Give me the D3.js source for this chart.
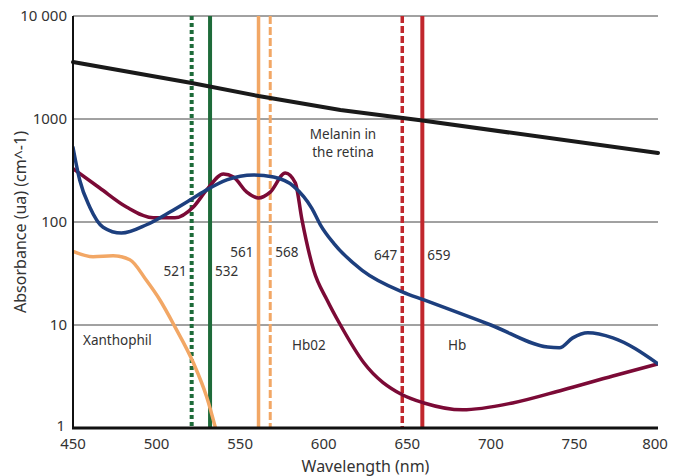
<!DOCTYPE html>
<html>
<head>
<meta charset="utf-8">
<script src="https://cdn.jsdelivr.net/npm/d3@7"></script>
<style>
  body { margin: 0; background: #fff; }
  text { font-family: "Noto Sans", sans-serif; fill: #333; }
</style>
</head>
<body>
<div id="chart"></div>
<script>
// Absorbance spectra (wavelength in nm, absorbance)
const melanin = [[450, 3575], [521, 2240], [561, 1670], [610, 1222], [659, 966], [800, 468]];
const hb = [[450, 530], [454, 256], [460, 140], [468, 89], [479, 78], [494, 94], [508, 125], [522, 171],
  [530, 205], [542, 256], [558, 286], [570, 273], [582, 222], [593, 135], [598, 94], [606, 62],
  [623, 34], [647, 21], [660, 17.5], [692, 11.2], [700, 10], [734, 6.1], [741, 6.0], [749, 7.5],
  [758, 8.4], [773, 7.5], [800, 4.2]];
const hbo2 = [[450, 330], [466, 214], [482, 140], [498, 110], [511, 110], [522, 140], [530, 205],
  [540, 292], [546, 273], [554, 195], [561, 171], [568, 195], [577, 299], [583, 240], [587, 105],
  [594, 34], [602, 17.5], [610, 10], [624, 4.3], [647, 2.1], [660, 1.75], [683, 1.5], [713, 1.75],
  [743, 2.34], [773, 3.2], [800, 4.2]];
const xanthophyll = [[450, 52], [462, 46], [474, 47], [484, 43], [494, 27], [502, 17.5], [511, 9.6],
  [522, 4.3], [530, 2.0], [536, 0.9]];

// laser wavelengths
const lasers = [
  {nm: 521, color: '#1e6b3a', dash: '4,3', w: 4, label: '521', side: 'left', ly: 271},
  {nm: 532, color: '#1e6b3a', dash: null, w: 4, label: '532', side: 'right', ly: 271},
  {nm: 561, color: '#f2a765', dash: null, w: 3.5, label: '561', side: 'left', ly: 252},
  {nm: 568, color: '#f2a765', dash: '8,3', w: 3, label: '568', side: 'right', ly: 252},
  {nm: 647, color: '#c1272d', dash: '7,3', w: 3.5, label: '647', side: 'left', ly: 255},
  {nm: 659, color: '#c1272d', dash: null, w: 4, label: '659', side: 'right', ly: 255}
];

const xTicks = [450, 500, 550, 600, 650, 700, 750, 800];
const yTicks = [1, 10, 100, 1000, 10000];
const yTickLabels = ['1', '10', '100', '1000', '10 000'];

const width = 681, height = 476;
const margin = {top: 16, right: 23, bottom: 48, left: 73};

const svg = d3.select('#chart').append('svg')
  .attr('width', width)
  .attr('height', height);

const x = d3.scaleLinear().domain([450, 800]).range([margin.left, width - margin.right]);
const y = d3.scaleLog().domain([1, 10000]).range([height - margin.bottom, margin.top]);

svg.append('defs').append('clipPath').attr('id', 'plot')
  .append('rect')
  .attr('x', margin.left).attr('y', margin.top)
  .attr('width', x(800) - x(450)).attr('height', y(1) - y(10000));

// gridlines
svg.append('g')
  .selectAll('line')
  .data(yTicks.slice(1))
  .join('line')
  .attr('x1', x(450)).attr('x2', x(800))
  .attr('y1', d => y(d)).attr('y2', d => y(d))
  .attr('stroke', '#444').attr('stroke-width', 1);

// y tick labels
svg.append('g')
  .selectAll('text')
  .data(yTicks)
  .join('text')
  .attr('x', d => d === 1 ? x(450) - 8 : x(450) - 6)
  .attr('y', d => d === 1 ? y(d) - 2 : y(d))
  .attr('dy', '0.35em')
  .attr('text-anchor', 'end')
  .style('font-size', '15px')
  .text((d, i) => yTickLabels[i]);

// x tick labels
svg.append('g')
  .selectAll('text')
  .data(xTicks)
  .join('text')
  .attr('x', d => d === 800 ? x(d) - 3 : x(d))
  .attr('y', y(1) + 16)
  .attr('dy', '0.35em')
  .attr('text-anchor', 'middle')
  .style('font-size', '15px')
  .text(d => d);

// vertical laser lines
const lg = svg.append('g');
lg.selectAll('line')
  .data(lasers)
  .join('line')
  .attr('x1', d => x(d.nm)).attr('x2', d => x(d.nm))
  .attr('y1', y(10000)).attr('y2', y(1))
  .attr('stroke', d => d.color)
  .attr('stroke-width', d => d.w)
  .attr('stroke-dasharray', d => d.dash);

lg.selectAll('text')
  .data(lasers)
  .join('text')
  .attr('x', d => d.side === 'left' ? x(d.nm) - 5 : x(d.nm) + 5)
  .attr('y', d => d.ly)
  .attr('dy', '0.35em')
  .attr('text-anchor', d => d.side === 'left' ? 'end' : 'start')
  .style('font-size', '13.5px')
  .text(d => d.label);

// curves
const line = d3.line()
  .x(d => x(d[0]))
  .y(d => y(d[1]))
  .curve(d3.curveMonotoneX);

const curves = svg.append('g').attr('clip-path', 'url(#plot)');
curves.append('path').datum(xanthophyll)
  .attr('d', line).attr('fill', 'none').attr('stroke', '#f2a765').attr('stroke-width', 3.5);
curves.append('path').datum(hbo2)
  .attr('d', line).attr('fill', 'none').attr('stroke', '#7b0a36').attr('stroke-width', 3.5);
curves.append('path').datum(hb)
  .attr('d', line).attr('fill', 'none').attr('stroke', '#1d3f7e').attr('stroke-width', 3.5)
  .attr('stroke-linecap', 'round');
svg.append('path').datum(melanin)
  .attr('d', d3.line().x(d => x(d[0])).y(d => y(d[1])))
  .attr('fill', 'none').attr('stroke', '#1a1a1a').attr('stroke-width', 4)
  .attr('stroke-linecap', 'round');

// axes
svg.append('line')
  .attr('x1', x(450)).attr('x2', x(450))
  .attr('y1', y(10000)).attr('y2', y(1))
  .attr('stroke', '#111').attr('stroke-width', 2);
svg.append('line')
  .attr('x1', x(450) - 1).attr('x2', x(800))
  .attr('y1', y(1)).attr('y2', y(1))
  .attr('stroke', '#111').attr('stroke-width', 3);

// curve labels
const labels = svg.append('g').style('font-size', '13.5px');
labels.append('text').attr('x', 343).attr('y', 134).attr('dy', '0.35em')
  .attr('text-anchor', 'middle').text('Melanin in');
labels.append('text').attr('x', 343).attr('y', 152).attr('dy', '0.35em')
  .attr('text-anchor', 'middle').text('the retina');
labels.append('text').attr('x', 83).attr('y', 340).attr('dy', '0.35em').text('Xanthophil');
labels.append('text').attr('x', 292).attr('y', 345).attr('dy', '0.35em').text('Hb02');
labels.append('text').attr('x', 448).attr('y', 345).attr('dy', '0.35em').text('Hb');

// axis titles
svg.append('text')
  .attr('x', (x(450) + x(800)) / 2)
  .attr('y', 466)
  .attr('dy', '0.35em')
  .attr('text-anchor', 'middle')
  .style('font-size', '16px')
  .text('Wavelength (nm)');
svg.append('text')
  .attr('transform', `translate(20,${(y(1) + y(10000)) / 2}) rotate(-90)`)
  .attr('dy', '0.35em')
  .attr('text-anchor', 'middle')
  .style('font-size', '16px')
  .text('Absorbance (ua) (cm^-1)');
</script>
</body>
</html>
